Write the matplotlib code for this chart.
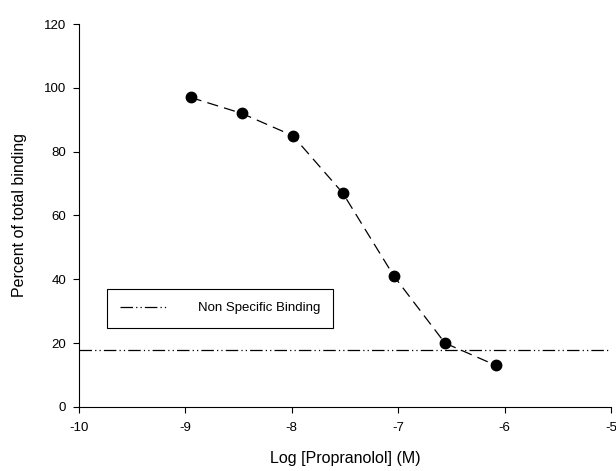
import numpy as np
import matplotlib.pyplot as plt

plt.rcParams['font.family'] = ['Liberation Sans', 'DejaVu Sans']
plt.rcParams['axes.unicode_minus'] = False

# Competition binding data
log_conc = [-8.95, -8.47, -7.99, -7.52, -7.04, -6.56, -6.08]
pct_binding = [97, 92, 85, 67, 41, 20, 13]
nsb_level = 18

fig = plt.figure(figsize=(6.16, 4.71), dpi=100)
ax = fig.add_axes([0.128, 0.136, 0.864, 0.813])

ax.plot(log_conc, pct_binding, color='black', lw=0.9, dashes=[9, 5],
        marker='o', markersize=7.5, markerfacecolor='black', markeredgecolor='black')
nsb_line = ax.axhline(nsb_level, color='black', lw=0.9, dashes=[10, 2.5, 1, 2.5, 1, 2.5],
                      label='Non Specific Binding')

ax.set_xlim(-10, -5)
ax.set_ylim(0, 120)
ax.set_xticks([-10, -9, -8, -7, -6, -5])
ax.set_yticks([0, 20, 40, 60, 80, 100, 120])
ax.spines['top'].set_visible(False)
ax.spines['right'].set_visible(False)
ax.tick_params(direction='out', length=4, labelsize=9.5, width=0.8)
ax.tick_params(axis='x', pad=7)
ax.tick_params(axis='y', pad=5)
ax.set_xlabel('Log [Propranolol] (M)', fontsize=11.5, labelpad=12)
ax.set_ylabel('Percent of total binding', fontsize=11.5, labelpad=12)

leg = ax.legend(handles=[nsb_line], loc='lower left', bbox_to_anchor=(0.04, 0.19),
                fancybox=False, edgecolor='black', framealpha=1, fontsize=9.5,
                handlelength=3.5, borderpad=1.0, handletextpad=2.4)
leg.get_frame().set_linewidth(0.8)

fig.savefig('out.png', dpi=100)
